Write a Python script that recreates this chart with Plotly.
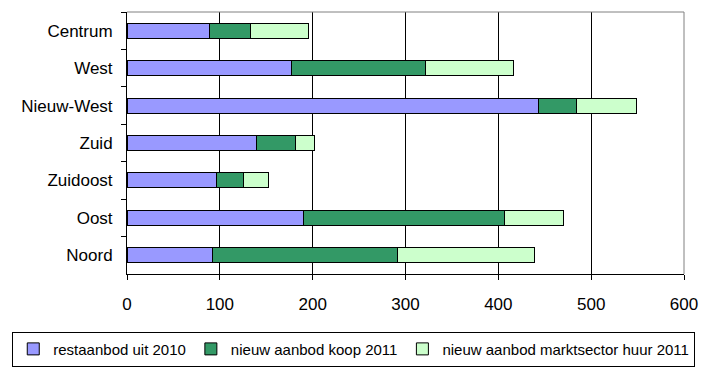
import plotly.graph_objects as go

categories = ["Centrum", "West", "Nieuw-West", "Zuid", "Zuidoost", "Oost", "Noord"]
restaanbod_2010 = [89, 177, 443, 139, 96, 190, 92]
nieuw_koop_2011 = [44, 144, 41, 43, 29, 217, 199]
nieuw_huur_2011 = [62, 95, 65, 20, 27, 63, 148]
series_names = ["restaanbod uit 2010", "nieuw aanbod koop 2011", "nieuw aanbod marktsector huur 2011"]
series_colors = ["#9999FF", "#339966", "#CCFFCC"]
x_ticks = [0, 100, 200, 300, 400, 500, 600]

FONT = "Arial, Liberation Sans, sans-serif"

fig = go.Figure()
for name, vals, col in zip(series_names, [restaanbod_2010, nieuw_koop_2011, nieuw_huur_2011], series_colors):
    fig.add_trace(go.Bar(
        y=categories, x=vals, name=name, orientation="h",
        marker=dict(color=col, line=dict(color="black", width=1)),
        width=0.4,
    ))

fig.update_layout(
    barmode="stack",
    width=709, height=380,
    margin=dict(l=127, r=25, t=12, b=106, autoexpand=False),
    paper_bgcolor="white", plot_bgcolor="white",
    font=dict(family=FONT, size=17, color="black"),
    showlegend=True,
    legend=dict(
        orientation="h", x=-0.206, xanchor="left", y=-0.22, yanchor="top",
        bordercolor="black", borderwidth=1, font=dict(size=15, family=FONT),
        traceorder="normal", itemclick=False,
    ),
    xaxis=dict(
        range=[0, 600], tickvals=x_ticks, ticktext=[str(v) for v in x_ticks],
        showgrid=True, gridcolor="black", gridwidth=1,
        showline=True, linecolor="black", linewidth=1,
        ticks="outside", ticklen=5, tickcolor="black",
        ticklabelstandoff=10, zeroline=False, fixedrange=True,
    ),
    yaxis=dict(
        categoryorder="array", categoryarray=categories, autorange="reversed",
        showgrid=False, showline=True, linecolor="black", linewidth=1,
        ticks="outside", ticklen=5, tickcolor="black", tickson="boundaries",
        ticklabelstandoff=10, fixedrange=True,
    ),
    shapes=[
        dict(type="line", xref="paper", yref="paper", x0=0, x1=1, y0=1, y1=1,
             line=dict(color="#808080", width=1), layer="above"),
        dict(type="line", xref="paper", yref="paper", x0=1, x1=1, y0=0, y1=1,
             line=dict(color="#808080", width=1), layer="above"),
    ],
)

fig.write_html("out.html", config={"displayModeBar": False},
               post_script="document.body.style.margin='0';")
